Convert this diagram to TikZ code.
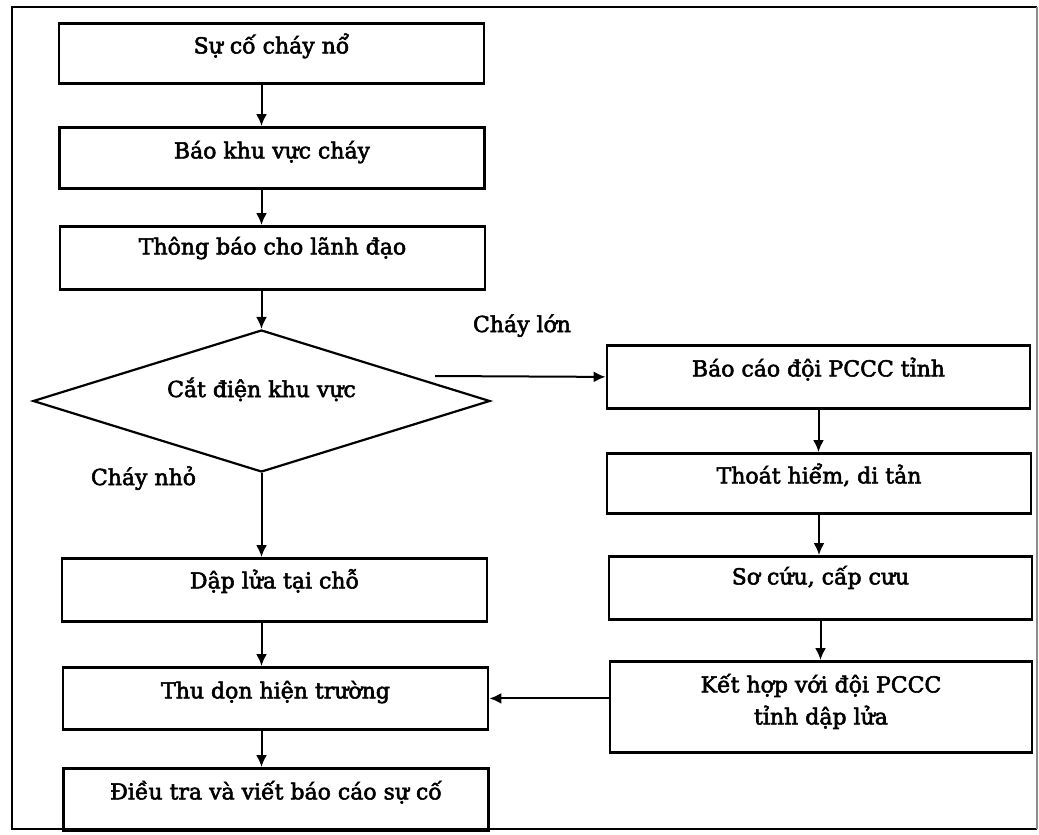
\documentclass[tikz,border=0pt]{standalone}
\usepackage{fontspec}
\setmainfont{DejaVu Serif}
\newfontfamily\boxfont{DejaVu Serif}[FakeBold=2.5]
\usetikzlibrary{shapes.geometric,arrows.meta}

\begin{document}
\begin{tikzpicture}[x=1pt,y=-1pt,
  every node/.style={font=\boxfont\fontsize{22}{32}\selectfont},
  proc/.style={draw, line width=2.8pt, anchor=north, inner ysep=0pt,
    minimum width=425pt},
  decision/.style={draw, diamond, aspect=3.2, line width=2.2pt, inner sep=0pt,
    minimum width=457pt, minimum height=142pt},
  arr/.style={line width=2pt, -{Latex[length=12pt,width=11pt]}},
  tag/.style={anchor=base}
]
% canvas and outer frame (right edge printed lighter)
\useasboundingbox (0,0) rectangle (1039,835);
\fill[white] (0,0) rectangle (1039,835);
\draw[line width=2.6pt] (1037,7) -- (12,7) -- (12,829) -- (1037,829);
\draw[line width=1.4pt, black!45] (1037,7) -- (1037,829);

% left column
\node[proc, text height=30pt, text depth=30pt] (b1) at (271.5,22) {Sự cố cháy nổ};
\node[proc, text height=31pt, text depth=30pt] (b2) at (272,126) {Báo khu vực cháy};
\node[proc, text height=28pt, text depth=35pt] (b3) at (272.5,225) {Thông báo cho lãnh đạo};
\node[decision, text height=14pt, text depth=22pt] (dia) at (261.5,401) {Cắt điện khu vực};
\node[proc, text height=30pt, text depth=33pt] (dap) at (274.5,557) {Dập lửa tại chỗ};
\node[proc, text height=31pt, text depth=31pt] (thu) at (275.5,666) {Thu dọn hiện trường};
\node[proc, text height=31pt, text depth=31pt] (dieu) at (276,767) {Điều tra và viết báo cáo sự cố};

% right column
\node[proc, minimum width=423pt, text height=31pt, text depth=32pt] (bc) at (818.5,344) {Báo cáo đội PCCC tỉnh};
\node[proc, minimum width=424pt, text height=30pt, text depth=30pt] (th) at (819,452) {Thoát hiểm, di tản};
\node[proc, minimum width=423pt, text height=28pt, text depth=35pt] (sc) at (820.5,555) {Sơ cứu, cấp cưu};
\node[proc, minimum width=422pt, text height=31pt, text depth=60pt] (kh) at (821,660)
  {\begin{tabular}[t]{@{}c@{}}Kết hợp với đội PCCC\\ tỉnh dập lửa\end{tabular}};

% branch labels
\node[tag] (lbig) at (522,332) {Cháy lớn};
\node[tag] (lsmall) at (143.5,485) {Cháy nhỏ};

% connectors
\coordinate (bigout) at (435,376);
\draw[arr] (b1.south -| dia.north) -- (b2.north -| dia.north);
\draw[arr] (b2.south -| dia.north) -- (b3.north -| dia.north);
\draw[arr] (b3.south -| dia.north) -- (dia.north);
\draw[arr] (dia.south) -- (dap.north -| dia.south);
\draw[arr] ([yshift=3pt]dap.south -| dia.south) -- (thu.north -| dia.south);
\draw[arr] (thu.south -| dia.south) -- (dieu.north -| dia.south);
\draw[arr] (bigout) -- (bc.west);
\draw[arr] (bc.south) -- (bc.south |- th.north);
\draw[arr] (th.south) -- (th.south |- sc.north);
\draw[arr] (sc.south) -- (sc.south |- kh.north);
\draw[arr] (kh.west |- thu.east) -- (thu.east);
\end{tikzpicture}
\end{document}
